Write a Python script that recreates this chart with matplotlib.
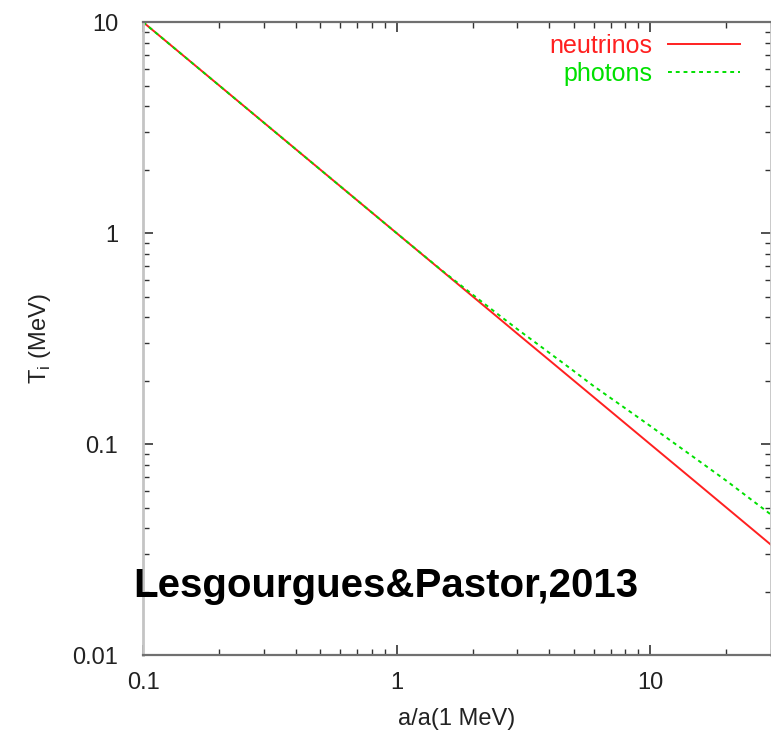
import numpy as np
import matplotlib
matplotlib.use('Agg')
import matplotlib.pyplot as plt
from matplotlib.ticker import LogLocator, NullFormatter, FixedLocator, FixedFormatter

plt.rcParams['font.family'] = ['Liberation Sans', 'DejaVu Sans']

## Datos
a = [0.1, 0.2, 0.5, 1.0, 1.5, 2.0, 2.5, 3.0, 4.0, 5.0, 6.0, 8.0, 10.0, 15.0, 20.0, 30.0]
T_nu = [10.0, 5.0, 2.0, 1.0, 0.667, 0.5, 0.4, 0.333, 0.25, 0.2, 0.1667, 0.125, 0.1, 0.0667, 0.05, 0.0333]
T_gamma = [10.0, 5.0, 2.0, 1.0, 0.669, 0.510, 0.414, 0.350, 0.271, 0.222, 0.188, 0.1475, 0.122, 0.086, 0.067, 0.0463]

xticks = [0.1, 1, 10]
xlabels = ['0.1', '1', '10']
yticks = [0.01, 0.1, 1, 10]
ylabels = ['0.01', '0.1', '1', '10']

fig = plt.figure(figsize=(7.71, 7.36), dpi=100)
ax = fig.add_axes([0.1855, 0.110, 0.8145, 0.860])
ax.set_xscale('log')
ax.set_yscale('log')
ax.plot(a, T_nu, color='#ff2020', lw=1.4, label='neutrinos')
ax.plot(a, T_gamma, color='#00e000', lw=1.4, dashes=(2, 2), label='photons')
ax.set_xlim(0.1, 30)
ax.set_ylim(0.01, 10)

ax.xaxis.set_major_locator(FixedLocator(xticks))
ax.xaxis.set_major_formatter(FixedFormatter(xlabels))
ax.yaxis.set_major_locator(FixedLocator(yticks))
ax.yaxis.set_major_formatter(FixedFormatter(ylabels))
ax.xaxis.set_minor_locator(LogLocator(base=10, subs=np.arange(2, 10)))
ax.yaxis.set_minor_locator(LogLocator(base=10, subs=np.arange(2, 10)))
ax.xaxis.set_minor_formatter(NullFormatter())
ax.yaxis.set_minor_formatter(NullFormatter())
ax.tick_params(which='both', direction='in', top=True, right=True, colors='#333333',
               labelcolor='#222222', labelsize=17)
ax.tick_params(which='major', length=7, width=1.2)
ax.tick_params(which='minor', length=4, width=1.0)
ax.tick_params(axis='y', pad=18)
ax.tick_params(axis='x', pad=12)
for side in ['top', 'bottom']:
    ax.spines[side].set_color('#707070')
    ax.spines[side].set_linewidth(1.6)
for side in ['left', 'right']:
    ax.spines[side].set_color('#c4c4c4')
    ax.spines[side].set_linewidth(2)

ax.set_xlabel('a/a(1 MeV)', fontsize=17, color='#222222', labelpad=10)
ax.set_ylabel(r'T$_\mathregular{i}$ (MeV)', fontsize=17, color='#222222', labelpad=14)

leg = ax.legend(loc='upper right', frameon=False, markerfirst=False, fontsize=18,
                labelcolor='linecolor', handlelength=2.9, handletextpad=0.6,
                borderaxespad=0.2, bbox_to_anchor=(0.975, 1.005), labelspacing=0.15)

fig.text(133 / 771, 1 - 586 / 736, 'Lesgourgues&Pastor,2013', fontsize=29,
         fontweight='bold', va='center', ha='left')

fig.savefig('out.png', dpi=100)
